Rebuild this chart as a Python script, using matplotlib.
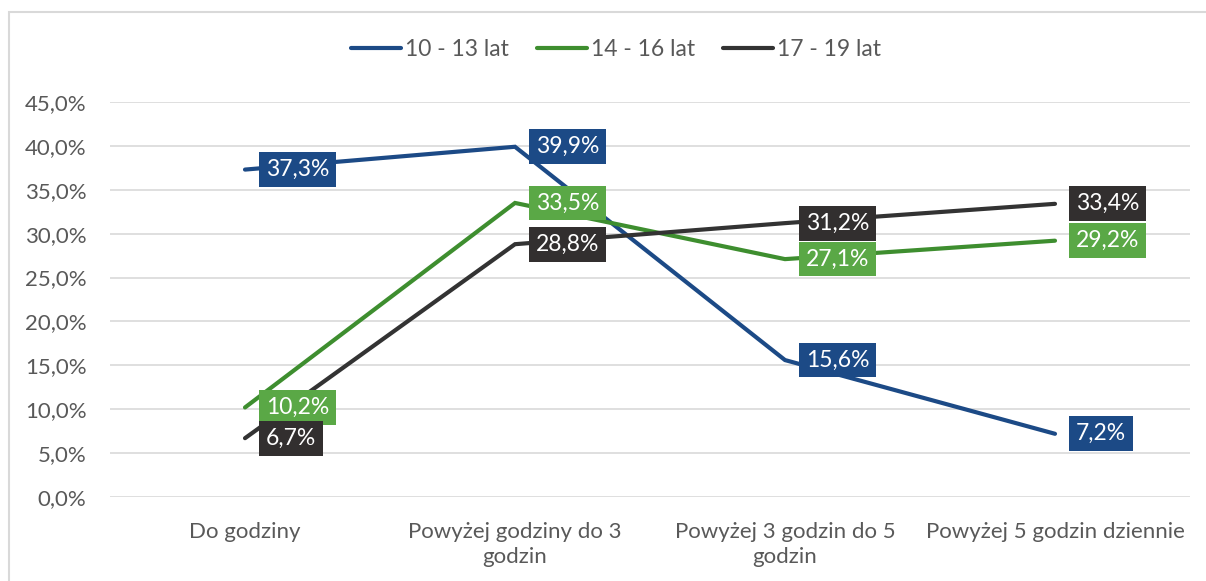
import matplotlib.pyplot as plt
from matplotlib.patches import Rectangle

categories = ["Do godziny", "Powyżej godziny do 3\ngodzin",
              "Powyżej 3 godzin do 5\ngodzin", "Powyżej 5 godzin dziennie"]
series_names = ["10 - 13 lat", "14 - 16 lat", "17 - 19 lat"]
vals_10_13 = [37.3, 39.9, 15.6, 7.2]
vals_14_16 = [10.2, 33.5, 27.1, 29.2]
vals_17_19 = [6.7, 28.8, 31.2, 33.4]
yticks = [0, 5, 10, 15, 20, 25, 30, 35, 40, 45]

line_colors = ["#1C4A86", "#3E8E2F", "#333333"]
box_colors = ["#1C4A86", "#5AA846", "#322F2F"]

plt.rcParams['font.family'] = ['Lato', 'DejaVu Sans']

fig = plt.figure(figsize=(12.06, 5.81), dpi=100)
ax = fig.add_axes([110 / 1206, 1 - 497 / 581, 1080 / 1206, 395 / 581])

# light frame around the whole chart
fig.patches.append(Rectangle((9 / 1206, -0.1), 1.2, 1 - 12 / 581 + 0.1,
                             transform=fig.transFigure, fill=False,
                             edgecolor="#D9D9D9", linewidth=1.5))

x = list(range(len(categories)))
all_vals = [vals_10_13, vals_14_16, vals_17_19]
for vals, name, lc, bc in zip(all_vals, series_names, line_colors, box_colors):
    ax.plot(x, vals, color=lc, linewidth=3.0, label=name,
            solid_capstyle='round', solid_joinstyle='miter', zorder=3)
    for xi, v in zip(x, vals):
        ax.annotate(f"{v:.1f}%".replace(".", ","), (xi, v),
                    xytext=(21, 0), textcoords='offset pixels',
                    ha='left', va='center', fontsize=16.5, color='white',
                    bbox=dict(boxstyle='square,pad=0.3', fc=bc, ec='none'),
                    zorder=5)

ax.set_xlim(-0.5, 3.5)
ax.set_ylim(0, 45)
ax.set_yticks(yticks)
ax.set_yticklabels([f"{t:.1f}%".replace(".", ",") for t in yticks])
ax.set_xticks(x)
ax.set_xticklabels(categories, linespacing=1.3)
ax.grid(axis='y', color='#D9D9D9', linewidth=1.2)
ax.set_axisbelow(True)
for s in ax.spines.values():
    s.set_visible(False)
ax.tick_params(axis='both', length=0, labelsize=16, colors='#595959')
ax.tick_params(axis='y', pad=17)
ax.tick_params(axis='x', pad=18)

fig.legend(loc='center', bbox_to_anchor=(616 / 1206, 1 - 50 / 581), ncol=3,
           frameon=False, fontsize=16.5, handlelength=2.2, handletextpad=0.18,
           columnspacing=1.2, labelcolor='#595959')

fig.savefig("out.png", dpi=100)
